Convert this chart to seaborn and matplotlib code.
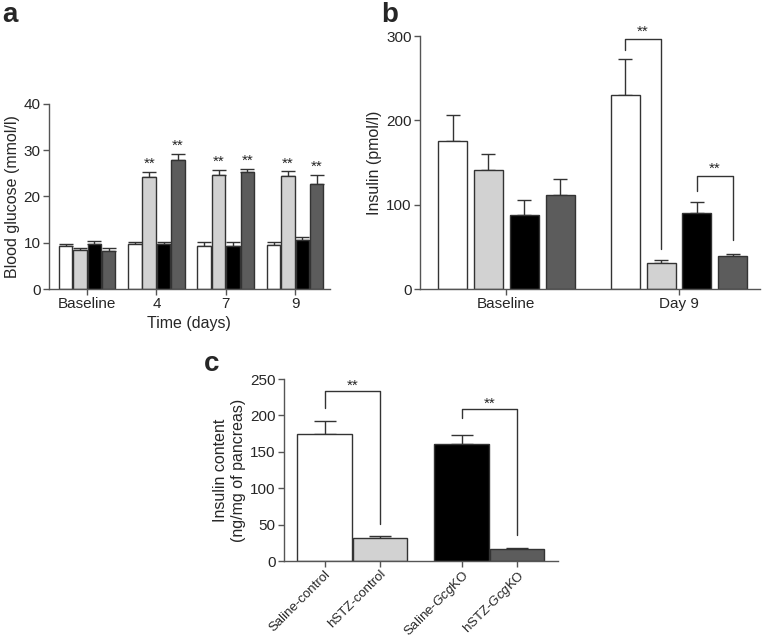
import numpy as np
import pandas as pd
import matplotlib
matplotlib.use("Agg")
import matplotlib.pyplot as plt
import seaborn as sns

sns.set_style("white")
plt.rcParams['font.family'] = ['Liberation Sans', 'DejaVu Sans']
plt.rcParams['mathtext.fontset'] = 'custom'
plt.rcParams['mathtext.it'] = 'Liberation Sans:italic'
plt.rcParams['mathtext.rm'] = 'Liberation Sans'

groups = ["Saline-control", "hSTZ-control", "Saline-GcgKO", "hSTZ-GcgKO"]
group_labels = ["Saline-control", "hSTZ-control", "Saline-$\\it{Gcg}$KO", "hSTZ-$\\it{Gcg}$KO"]
colors = ["#ffffff", "#d2d2d2", "#000000", "#5c5c5c"]

# Panel a: blood glucose (mmol/l)
days_a = ["Baseline", "4", "7", "9"]
glu_saline_ctrl = [9.2, 9.7, 9.4, 9.6]
glu_hstz_ctrl = [8.5, 24.2, 24.7, 24.5]
glu_saline_ko = [9.7, 9.7, 9.4, 10.5]
glu_hstz_ko = [8.2, 27.9, 25.3, 22.7]
glu_sem_saline_ctrl = [0.5, 0.5, 0.7, 0.5]
glu_sem_hstz_ctrl = [0.35, 1.1, 1.1, 0.9]
glu_sem_saline_ko = [0.6, 0.4, 0.7, 0.7]
glu_sem_hstz_ko = [0.65, 1.3, 0.7, 2.0]

# Panel b: plasma insulin (pmol/l)
days_b = ["Baseline", "Day 9"]
ins_saline_ctrl = [175, 230]
ins_hstz_ctrl = [141, 31]
ins_saline_ko = [88, 90]
ins_hstz_ko = [112, 39]
ins_sem_saline_ctrl = [31, 43]
ins_sem_hstz_ctrl = [19, 3]
ins_sem_saline_ko = [18, 13]
ins_sem_hstz_ko = [19, 3]

# Panel c: pancreatic insulin content (ng/mg)
c_group = ["control", "control", "GcgKO", "GcgKO"]
c_treat = ["Saline", "hSTZ", "Saline", "hSTZ"]
content = [175, 31, 161, 16.5]
content_sem = [17, 3, 12, 1.8]

# significance brackets: (left bar, right bar, left start, top, right end)
b_brackets = [((1, 0), (1, 1), 283, 296, 47), ((1, 2), (1, 3), 116, 134, 58)]
c_brackets = [(0, 1, 210, 233, 51), (2, 3, 196, 209, 36)]

edge = "#333333"
spine_c = "#555555"
TICK_FS = 11
LAB_FS = 11.5
STAR_FS = 11

fig = plt.figure(figsize=(7.67, 6.41), dpi=100)
ax_a = fig.add_axes([0.0639, 0.549, 0.366, 0.289])
ax_b = fig.add_axes([0.5476, 0.549, 0.4434, 0.3948])
ax_c = fig.add_axes([0.370, 0.1248, 0.3575, 0.2839])


def style(ax):
    sns.despine(ax=ax)
    for s in ("left", "bottom"):
        ax.spines[s].set_color(spine_c)
        ax.spines[s].set_linewidth(1.0)
    ax.tick_params(axis="both", direction="out", length=4, width=1.0,
                   color=spine_c, labelsize=TICK_FS, pad=2,
                   bottom=True, left=True)


def long_df(xcats, series, sems):
    rows = []
    for g, vals, errs in zip(groups, series, sems):
        for x, v, e in zip(xcats, vals, errs):
            rows.append({"x": x, "group": g, "value": v, "sem": e})
    return pd.DataFrame(rows)


def draw_errs(ax, df_sems_by_group):
    for cont, errs in zip(ax.containers, df_sems_by_group):
        xs = [p.get_x() + p.get_width() / 2 for p in cont]
        hs = [p.get_height() for p in cont]
        ax.errorbar(xs, hs, yerr=[np.zeros(len(errs)), errs], fmt="none",
                    ecolor="#333333", elinewidth=1.0, capsize=5, capthick=1.0,
                    zorder=1)


# ---- Panel a ----
df_a = long_df(days_a, [glu_saline_ctrl, glu_hstz_ctrl, glu_saline_ko, glu_hstz_ko],
               [glu_sem_saline_ctrl, glu_sem_hstz_ctrl, glu_sem_saline_ko, glu_sem_hstz_ko])
sns.barplot(data=df_a, x="x", y="value", hue="group", hue_order=groups,
            palette=colors, errorbar=None, width=0.83, gap=0.06,
            edgecolor=edge, linewidth=1.0, legend=False, ax=ax_a, zorder=2)
sems_a = [glu_sem_saline_ctrl, glu_sem_hstz_ctrl, glu_sem_saline_ko, glu_sem_hstz_ko]
draw_errs(ax_a, sems_a)
for gi in (1, 3):
    cont = ax_a.containers[gi]
    for k, p in enumerate(cont):
        if k == 0:
            continue
        ax_a.annotate("**", (p.get_x() + p.get_width() / 2, p.get_height() + sems_a[gi][k]),
                      xytext=(0, 3), textcoords="offset points", ha="center",
                      va="baseline", fontsize=STAR_FS)
ax_a.set_ylim(0, 40)
ax_a.set_yticks([0, 10, 20, 30, 40])
ax_a.set_xlim(-0.55, 3.5)
ax_a.set_xlabel("Time (days)", fontsize=LAB_FS, labelpad=3)
ax_a.set_ylabel("Blood glucose (mmol/l)", fontsize=LAB_FS, labelpad=3)
style(ax_a)

# ---- Panel b ----
df_b = long_df(days_b, [ins_saline_ctrl, ins_hstz_ctrl, ins_saline_ko, ins_hstz_ko],
               [ins_sem_saline_ctrl, ins_sem_hstz_ctrl, ins_sem_saline_ko, ins_sem_hstz_ko])
sns.barplot(data=df_b, x="x", y="value", hue="group", hue_order=groups,
            palette=colors, errorbar=None, width=0.83, gap=0.19,
            edgecolor=edge, linewidth=1.0, legend=False, ax=ax_b, zorder=2)
draw_errs(ax_b, [ins_sem_saline_ctrl, ins_sem_hstz_ctrl, ins_sem_saline_ko, ins_sem_hstz_ko])


def bar_center(ax, cont_i, bar_i):
    p = ax.containers[cont_i][bar_i]
    return p.get_x() + p.get_width() / 2


for (xi, gi), (xj, gj), y0, ytop, y1 in b_brackets:
    xl = bar_center(ax_b, gi, xi)
    xr = bar_center(ax_b, gj, xj)
    ax_b.plot([xl, xl, xr, xr], [y0, ytop, ytop, y1], color="#333333", lw=1.0)
    ax_b.annotate("**", ((xl + xr) / 2, ytop), xytext=(0, 2.5), textcoords="offset points",
                  ha="center", va="baseline", fontsize=STAR_FS)
ax_b.set_ylim(0, 300)
ax_b.set_yticks([0, 100, 200, 300])
ax_b.set_xlim(-0.5, 1.47)
ax_b.set_xlabel("")
ax_b.set_ylabel("Insulin (pmol/l)", fontsize=LAB_FS, labelpad=3)
style(ax_b)

# ---- Panel c ----
df_c = pd.DataFrame({"grp": c_group, "treat": c_treat, "value": content})
sns.barplot(data=df_c, x="grp", y="value", hue="treat", hue_order=["Saline", "hSTZ"],
            palette=["#ffffff", "#ffffff"], errorbar=None, width=0.81, gap=0.02,
            edgecolor=edge, linewidth=1.0, legend=False, ax=ax_c, zorder=2)
bars_c = []
for gi in range(2):
    for ti in range(2):
        bars_c.append(ax_c.containers[ti][gi])
xs_c = []
for p, col in zip(bars_c, colors):
    p.set_facecolor(col)
    xs_c.append(p.get_x() + p.get_width() / 2)
ax_c.errorbar(xs_c, content, yerr=[np.zeros(4), content_sem], fmt="none",
              ecolor="#333333", elinewidth=1.0, capsize=8, capthick=1.0, zorder=1)
for i, j, y0, ytop, y1 in c_brackets:
    ax_c.plot([xs_c[i], xs_c[i], xs_c[j], xs_c[j]], [y0, ytop, ytop, y1],
              color="#333333", lw=1.0)
    ax_c.annotate("**", ((xs_c[i] + xs_c[j]) / 2, ytop), xytext=(0, 1),
                  textcoords="offset points", ha="center", va="baseline", fontsize=STAR_FS)
ax_c.set_xticks(xs_c)
ax_c.set_xticklabels(group_labels, rotation=45, ha="right", rotation_mode="anchor")
ax_c.set_xlim(-0.5, 1.5)
ax_c.set_ylim(0, 250)
ax_c.set_yticks([0, 50, 100, 150, 200, 250])
ax_c.set_xlabel("")
ax_c.set_ylabel("Insulin content\n(ng/mg of pancreas)", fontsize=LAB_FS, labelpad=3)
style(ax_c)
ax_c.tick_params(axis="x", labelsize=9.5, pad=1)

fig.text(0.003, 0.997, "a", fontsize=20, fontweight="bold", va="top", ha="left")
fig.text(0.497, 0.997, "b", fontsize=20, fontweight="bold", va="top", ha="left")
fig.text(0.266, 0.452, "c", fontsize=20, fontweight="bold", va="top", ha="left")

fig.savefig("out.png", dpi=100)
